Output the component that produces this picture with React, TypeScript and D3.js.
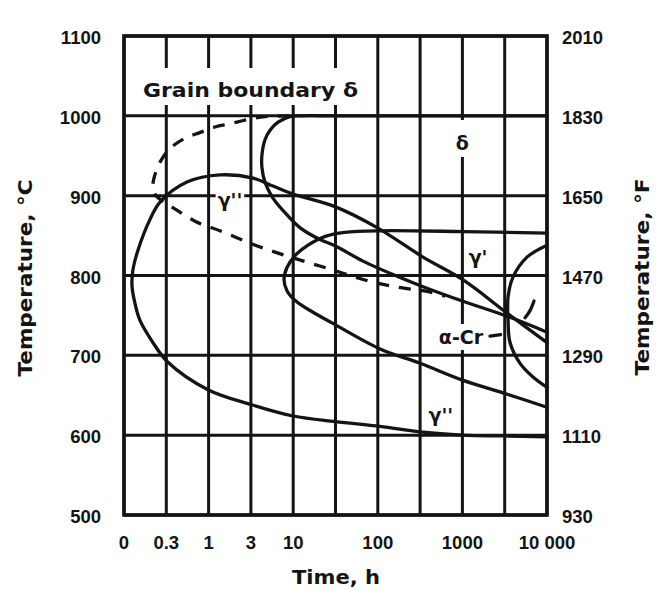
import React, { useEffect, useRef } from "react";
import * as d3 from "d3";

const W = 659;
const H = 590;

// Time grid in hours; the first line stands for "0"
const timeGrid = [0.1, 0.3, 1, 3, 10, 30, 100, 300, 1000, 3000, 10000];
const timeTickValues = [0.1, 0.3, 1, 3, 10, 100, 1000, 10000];
const timeTickLabels = ["0", "0.3", "1", "3", "10", "100", "1000", "10 000"];
const tempCTicks = [500, 600, 700, 800, 900, 1000, 1100];
const tempFLabels = ["930", "1110", "1290", "1470", "1650", "1830", "2010"];

// Precipitation boundaries: [time h, temperature °C]
const gammaDoublePrimeCurve: [number, number][] = [
  [10000, 598], [3000, 599], [1000, 600], [300, 604], [106, 611], [30, 617],
  [10, 624], [3.1, 638], [0.98, 657], [0.31, 692], [0.212, 716], [0.151, 744],
  [0.13, 770], [0.123, 788], [0.126, 807], [0.144, 832], [0.196, 870],
  [0.255, 892], [0.54, 917], [1.35, 926], [3.19, 922], [5.62, 912], [10, 902],
  [30, 886], [98, 860], [326, 823], [1000, 795], [3200, 753], [10000, 716],
];
const deltaCurve: [number, number][] = [
  [10000, 1000], [300, 1000], [30, 1000], [11.9, 1000], [9.1, 999], [6.5, 992],
  [5.17, 982], [4.48, 970], [4.11, 951], [4.11, 935], [4.48, 917], [5.62, 897],
  [8.38, 876], [11.9, 860], [20.1, 845], [30, 837], [65.6, 818], [165, 799],
  [326, 786], [1000, 768], [3200, 749], [10000, 729],
];
const grainBoundaryDelta: [number, number][] = [
  [9.1, 1000], [4.48, 999], [2.71, 995], [1.74, 990], [1.18, 986], [0.78, 979],
  [0.51, 972], [0.333, 959], [0.255, 942], [0.218, 922], [0.212, 910],
  [0.23, 900], [0.275, 893], [0.35, 886], [0.68, 868], [1.42, 855], [3, 840],
  [6.5, 828], [14, 817], [30, 806], [65.6, 795], [156, 786], [365, 780],
  [610, 774],
];
const gammaPrimeCurve: [number, number][] = [
  [10000, 853], [1000, 855], [106, 856], [39, 854], [23, 849], [14.7, 838],
  [10.5, 825], [8.38, 810], [7.7, 795], [8.38, 781], [10.7, 768], [16.7, 754],
  [28.1, 740], [106, 708], [300, 690], [1000, 669], [2870, 653], [10000, 635],
];
const gammaPrimeLongTime: [number, number][] = [
  [10000, 838], [5660, 823], [3800, 798], [3300, 773], [3300, 744],
  [3490, 716], [4640, 690], [6710, 673], [10000, 660],
];
const alphaCrCurve: [number, number][] = [[6910, 768], [6170, 756], [5350, 747]];
const alphaCrLeader: [number, number][] = [[2050, 724], [2700, 726]];

// Phase labels placed at [time h, temperature °C]
const phaseLabels = [
  { text: "δ", t: 1000, T: 966, pad: [3, 12, 3, 3] },
  { text: "γ''", t: 1.74, T: 894, pad: [2, 2, 2, 2] },
  { text: "γ'", t: 1500, T: 823, pad: [0, 0, 0, 0] },
  { text: "α-Cr", t: 960, T: 723, pad: [2, 2, 2, 2] },
  { text: "γ''", t: 540, T: 625, pad: [0, 0, 0, 0] },
];

const INK = "#141414";
const NUM_FONT = "'Liberation Sans', Arial, sans-serif";
const TXT_FONT = "'DejaVu Sans', 'Liberation Sans', sans-serif";

export default function App() {
  const ref = useRef<SVGSVGElement>(null);

  useEffect(() => {
    const svg = d3.select(ref.current);
    svg.selectAll("*").remove();

    const left = 124, right = 547, top = 36, bottom = 515;
    const x = d3
      .scaleLog()
      .domain(timeGrid)
      .range(timeGrid.map((_, i) => left + (i * (right - left)) / (timeGrid.length - 1)));
    const y = d3.scaleLinear().domain([500, 1100]).range([bottom, top]);

    svg.append("rect").attr("width", W).attr("height", H).attr("fill", "#fff");

    // grid
    const grid = svg.append("g").attr("stroke", INK).attr("stroke-width", 3);
    grid.selectAll("line.v").data(timeGrid).join("line")
      .attr("x1", (d) => x(d)).attr("x2", (d) => x(d))
      .attr("y1", top).attr("y2", bottom);
    grid.selectAll("line.h").data(tempCTicks).join("line")
      .attr("x1", left).attr("x2", right)
      .attr("y1", (d) => y(d)).attr("y2", (d) => y(d));

    const bgLayer = svg.append("g");

    // curves
    const line = d3.line<[number, number]>()
      .x((d) => x(d[0])).y((d) => y(d[1]))
      .curve(d3.curveCatmullRom.alpha(0.5));
    const curves = svg.append("g").attr("fill", "none").attr("stroke", INK)
      .attr("stroke-width", 3.3).attr("stroke-linecap", "round").attr("stroke-linejoin", "round");
    [gammaDoublePrimeCurve, deltaCurve, gammaPrimeCurve, gammaPrimeLongTime, alphaCrCurve, alphaCrLeader]
      .forEach((c) => curves.append("path").attr("d", line(c)));
    curves.append("path").attr("d", line(grainBoundaryDelta))
      .attr("stroke-dasharray", "12 10").attr("stroke-linecap", "butt");

    // frame
    svg.append("rect").attr("x", left).attr("y", top)
      .attr("width", right - left).attr("height", bottom - top)
      .attr("fill", "none").attr("stroke", INK).attr("stroke-width", 3.6);

    const addLabel = (
      txt: string, px: number, py: number, size: number,
      pad: number[], length?: number,
    ) => {
      const t = svg.append("text").attr("x", px).attr("y", py)
        .attr("text-anchor", "middle").attr("dominant-baseline", "central")
        .attr("font-family", TXT_FONT).attr("font-weight", 700)
        .attr("font-size", size).attr("fill", INK).text(txt);
      if (length) t.attr("textLength", length).attr("lengthAdjust", "spacingAndGlyphs");
      const b = (t.node() as SVGTextElement).getBBox();
      const [pl, pt, pr, pb] = pad;
      bgLayer.append("rect")
        .attr("x", b.x - pl).attr("y", b.y - pt)
        .attr("width", b.width + pl + pr).attr("height", b.height + pt + pb)
        .attr("fill", "#fff");
    };

    addLabel("Grain boundary δ", 250.5, 90, 20, [6, 10, 6, 3], 215);
    phaseLabels.forEach((l) => addLabel(l.text, x(l.t), y(l.T), 19, l.pad));

    // axis numbers
    const nums = svg.append("g").attr("font-family", NUM_FONT).attr("font-weight", 700)
      .attr("font-size", 18.5).attr("fill", INK);
    nums.selectAll("text.l").data(tempCTicks).join("text")
      .attr("x", 101).attr("y", (d) => y(d) + 8).attr("text-anchor", "end")
      .text((d) => String(d));
    nums.selectAll("text.r").data(tempFLabels).join("text")
      .attr("x", 562).attr("y", (_, i) => y(tempCTicks[i]) + 8).attr("text-anchor", "start")
      .text((d) => d);
    nums.selectAll("text.b").data(timeTickValues).join("text")
      .attr("x", (d) => x(d)).attr("y", 549).attr("text-anchor", "middle")
      .text((_, i) => timeTickLabels[i]);

    // axis titles
    const titles = svg.append("g").attr("font-family", TXT_FONT).attr("font-weight", 700)
      .attr("font-size", 19).attr("fill", INK).attr("text-anchor", "middle");
    titles.append("text").attr("x", 336).attr("y", 584)
      .attr("textLength", 88).attr("lengthAdjust", "spacingAndGlyphs").text("Time, h");
    titles.append("text").attr("transform", "translate(32,278) rotate(-90)")
      .attr("textLength", 197).attr("lengthAdjust", "spacingAndGlyphs").text("Temperature, °C");
    titles.append("text").attr("transform", "translate(649,277) rotate(-90)")
      .attr("textLength", 197).attr("lengthAdjust", "spacingAndGlyphs").text("Temperature, °F");
  }, []);

  return (
    <svg
      ref={ref}
      width={W}
      height={H}
      style={{ position: "absolute", left: 0, top: 0, display: "block" }}
    />
  );
}
